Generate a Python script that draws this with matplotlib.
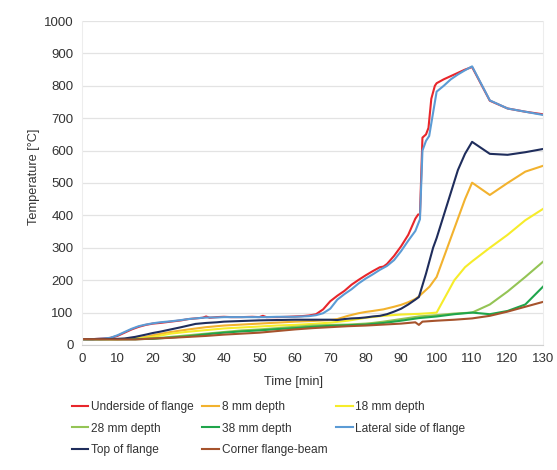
import matplotlib

matplotlib.use("Agg")
import matplotlib.pyplot as plt

# Underside of flange
t_under = [0, 3, 6, 8, 10, 12, 14, 16, 18, 20, 22, 25, 28, 30, 32, 34, 35, 36, 38, 40,
           42, 45, 48, 50, 51, 52, 55, 58, 60, 62, 64, 66, 68, 70, 72, 74, 76, 78, 80, 82,
           84, 85, 86, 88, 90, 92, 94, 94.8, 95.3, 96, 97, 97.7, 98.5, 99.5, 100, 102, 104,
           106, 108, 110, 115, 120, 125, 130]
T_under = [18, 18, 20, 22, 28, 38, 48, 56, 62, 66, 68, 72, 76, 80, 82, 84, 88, 84, 86, 87,
           86, 86, 87, 86, 90, 86, 86, 87, 88, 89, 91, 95, 110, 135, 152, 167, 186, 201, 215, 228,
           240, 242, 250, 275, 305, 340, 390, 403, 402, 640, 650, 670, 760, 800, 808, 820, 830,
           840, 850, 858, 754, 730, 720, 712]

# 8 mm depth
t_8mm = [0, 5, 10, 15, 18, 20, 25, 30, 35, 40, 45, 50, 55, 60, 65, 70, 72, 75, 78, 80, 82,
         85, 88, 90, 92, 94, 95, 96, 98, 100, 102, 105, 108, 110, 115, 120, 125, 130]
T_8mm = [18, 18, 18, 20, 25, 30, 40, 48, 55, 60, 63, 66, 69, 72, 74, 77, 80, 90, 98, 102, 105,
         110, 118, 124, 132, 142, 150, 160, 180, 210, 270, 360, 450, 501, 463, 500, 535, 553]

# 18 mm depth
t_18mm = [0, 5, 10, 15, 20, 25, 30, 35, 40, 45, 50, 55, 60, 65, 70, 75, 80, 85, 90, 95, 98,
          100, 102, 105, 108, 110, 115, 120, 125, 130]
T_18mm = [18, 18, 18, 19, 25, 35, 41, 46, 51, 54, 57, 60, 62, 65, 69, 75, 84, 90, 94, 96, 98,
          100, 140, 200, 240, 258, 300, 340, 385, 420]

# 28 mm depth
t_28mm = [0, 10, 15, 20, 25, 30, 35, 40, 45, 50, 55, 60, 65, 70, 75, 80, 82, 85, 90, 95, 100,
          105, 110, 115, 120, 125, 130]
T_28mm = [18, 18, 18, 20, 25, 30, 35, 40, 45, 48, 52, 56, 60, 62, 63, 66, 68, 72, 80, 88, 92,
          97, 100, 125, 165, 210, 257]

# 38 mm depth
t_38mm = [0, 10, 15, 20, 25, 30, 35, 40, 45, 50, 55, 60, 65, 70, 75, 80, 85, 90, 95, 100,
          105, 110, 115, 120, 125, 130]
T_38mm = [18, 18, 18, 19, 23, 27, 33, 38, 42, 45, 49, 52, 56, 59, 61, 63, 68, 75, 83, 88,
          95, 100, 95, 105, 125, 180]

# Lateral side of flange
t_lat = [0, 3, 6, 8, 10, 12, 14, 16, 18, 20, 22, 25, 28, 30, 32, 34, 36, 38, 40, 42, 45, 48,
         50, 52, 55, 58, 60, 62, 64, 66, 68, 70, 72, 74, 76, 78, 80, 82, 84, 86, 88, 90, 92,
         94, 95.3, 96, 97, 97.9, 100, 102, 104, 106, 108, 110, 115, 120, 125, 130]
T_lat = [18, 18, 20, 22, 30, 40, 50, 58, 63, 67, 70, 73, 77, 80, 82, 84, 85, 85, 86, 86, 86, 86,
         86, 86, 87, 87, 87, 88, 89, 92, 98, 112, 140, 157, 172, 190, 205, 218, 232, 244, 262,
         290, 322, 352, 388, 600, 630, 645, 782, 800, 820, 835, 848, 860, 755, 730, 720, 710]

# Top of flange
t_top = [0, 5, 10, 12, 15, 18, 20, 22, 25, 28, 30, 32, 35, 38, 40, 45, 50, 55, 60, 65, 70, 72,
         74, 76, 78, 80, 82, 84, 86, 88, 90, 92, 94, 95, 97, 99, 100, 102, 104, 106, 108, 110,
         115, 120, 125, 130]
T_top = [18, 18, 19, 20, 25, 32, 37, 41, 48, 55, 60, 65, 68, 70, 72, 74, 76, 77, 78, 78, 78, 77,
         80, 82, 83, 85, 88, 90, 95, 103, 112, 125, 140, 148, 220, 300, 330, 400, 470, 540, 590,
         627, 590, 587, 595, 605]

# Corner flange-beam
t_corner = [0, 10, 15, 20, 25, 30, 35, 40, 45, 50, 55, 60, 65, 70, 75, 80, 85, 90, 94, 95, 96,
            100, 105, 110, 115, 120, 125, 130]
T_corner = [18, 17, 17, 20, 22, 25, 28, 32, 35, 38, 43, 48, 52, 55, 58, 60, 63, 66, 70, 62, 72,
            75, 78, 82, 90, 103, 118, 133]

series = [
    ("Underside of flange", t_under, T_under, "#E8262B"),
    ("8 mm depth", t_8mm, T_8mm, "#F2B22E"),
    ("18 mm depth", t_18mm, T_18mm, "#F6EC2A"),
    ("28 mm depth", t_28mm, T_28mm, "#94C455"),
    ("38 mm depth", t_38mm, T_38mm, "#1FA54B"),
    ("Lateral side of flange", t_lat, T_lat, "#5B9BD5"),
    ("Top of flange", t_top, T_top, "#1F2D5C"),
    ("Corner flange-beam", t_corner, T_corner, "#A6532C"),
]

plt.rcParams["font.family"] = ["Liberation Sans", "DejaVu Sans"]
txt = "#333333"

fig = plt.figure(figsize=(5.57, 4.70), dpi=100)
ax = fig.add_axes([0.1472, 0.266, 0.8277, 0.6893])

lines = {}
for name, t, T, color in series:
    (ln,) = ax.plot(t, T, color=color, linewidth=1.5, label=name)
    lines[name] = ln

ax.set_xlim(0, 130)
ax.set_ylim(0, 1000)
ax.set_xticks(range(0, 131, 10))
ax.set_yticks(range(0, 1001, 100))
ax.grid(axis="y", color="#E3E3E3", linewidth=0.9)
ax.set_axisbelow(True)
ax.spines["top"].set_visible(False)
for side in ("left", "right"):
    ax.spines[side].set_color("#EDEDED")
    ax.spines[side].set_linewidth(0.8)
ax.spines["bottom"].set_color("#D0D0D0")
ax.tick_params(length=0, labelsize=9.5, colors=txt, pad=6)
ax.set_xlabel("Time [min]", fontsize=9.2, color=txt)
ax.xaxis.set_label_coords(0.458, -0.095)
ax.set_ylabel("Temperature [°C]", fontsize=9.2, color=txt)
ax.yaxis.set_label_coords(-0.09, 0.52)

# legend filled column-wise, so reorder to read row by row
order = ["Underside of flange", "28 mm depth", "Top of flange",
         "8 mm depth", "38 mm depth", "Corner flange-beam",
         "18 mm depth", "Lateral side of flange"]
leg = fig.legend([lines[n] for n in order], order, ncol=3, frameon=False,
                 loc="upper left", bbox_to_anchor=(0.12, 0.157), fontsize=8.6,
                 handlelength=1.4, handletextpad=0.2, columnspacing=0.75,
                 labelspacing=0.8, borderaxespad=0)
for text in leg.get_texts():
    text.set_color(txt)

fig.savefig("out.png", dpi=100)
